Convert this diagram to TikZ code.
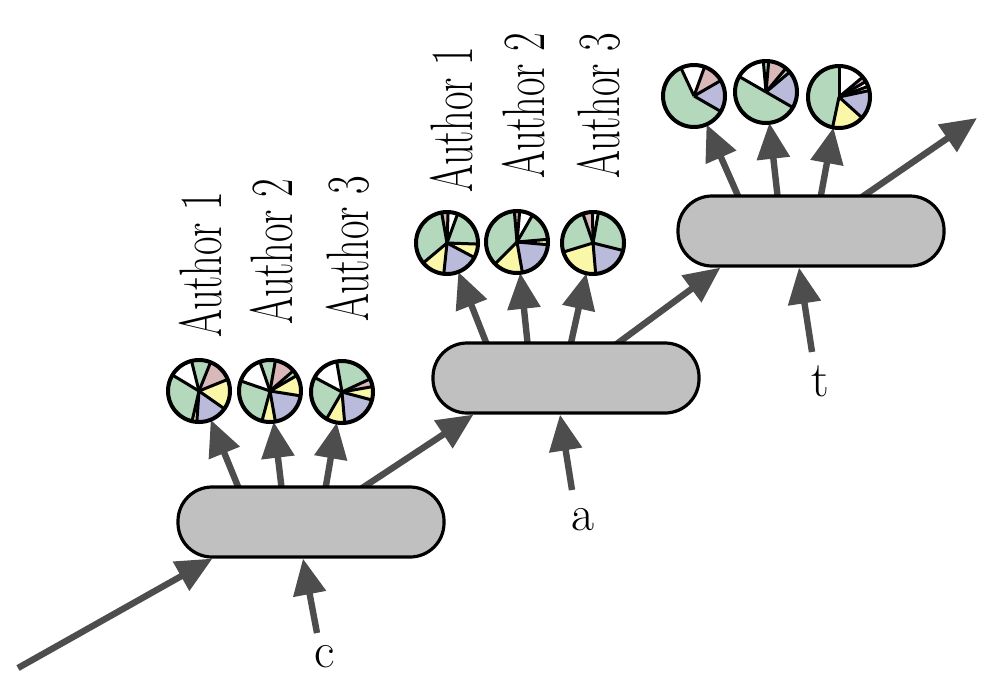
\documentclass[tikz,border=0pt]{standalone}
\usepackage{graphicx}
\usetikzlibrary{arrows.meta,backgrounds}
\definecolor{arrgray}{RGB}{77,77,77}
\definecolor{boxgray}{RGB}{192,192,192}
\definecolor{pG}{RGB}{180,216,187}
\definecolor{pP}{RGB}{216,184,184}
\definecolor{pY}{RGB}{250,247,168}
\definecolor{pL}{RGB}{186,186,218}
\definecolor{pW}{RGB}{255,255,255}
\tikzset{
 blockbox/.style={draw=black, line width=1.6pt, fill=boxgray, rounded corners=17pt,
   minimum width=133pt, minimum height=35pt, inner sep=0pt},
 pienode/.style={circle, minimum size=31pt, inner sep=0pt, outer sep=0pt},
 arr/.style={draw=arrgray, line width=3.2pt, -{Triangle[length=18pt,width=16pt]}},
 pieline/.style={line width=1.5pt, black},
 pieedge/.style={line width=2pt, black},
 authorlbl/.style={rotate=90, inner sep=0pt},
 inlbl/.style={inner sep=0pt, font=\fontsize{25}{25}\selectfont},
}
\newcommand{\drawpieslices}[2]{%
  \foreach \angA/\angB/\colr in {#2} {
    \fill[\colr] (#1.center) -- +(\angA:31) arc[start angle=\angA, end angle=\angB, radius=31] -- cycle;
  }
  \foreach \angA/\angB/\colr in {#2} {
    \draw[pieline] (#1.center) -- +(\angA:31);
  }
  \draw[pieedge] (#1.center) circle[radius=31];
}
\newcommand{\authortext}[1]{\scalebox{0.84}[1.25]{\fontsize{24}{24}\selectfont #1}}
\begin{document}
\begin{tikzpicture}[x=0.5pt,y=-0.5pt]
\useasboundingbox (0,0) rectangle (988,686);
% boxes
\node[blockbox] (b1) at (311,522) {};
\node[blockbox] (b2) at (566,378) {};
\node[blockbox] (b3) at (811,231) {};
% pies
\node[pienode] (p11) at (199,391) {};
\node[pienode] (p12) at (270,391) {};
\node[pienode] (p13) at (342,392) {};
\node[pienode] (p21) at (447,243) {};
\node[pienode] (p22) at (517,242) {};
\node[pienode] (p23) at (593,243) {};
\node[pienode] (p31) at (694,96) {};
\node[pienode] (p32) at (766,92) {};
\node[pienode] (p33) at (839,97) {};
% labels
\node[authorlbl] (l11) at (201,265) {\authortext{Author 1}};
\node[authorlbl] (l12) at (272,252) {\authortext{Author 2}};
\node[authorlbl] (l13) at (348,249) {\authortext{Author 3}};
\node[authorlbl] (l21) at (452,120) {\authortext{Author 1}};
\node[authorlbl] (l22) at (524,106) {\authortext{Author 2}};
\node[authorlbl] (l23) at (599,106) {\authortext{Author 3}};
\node[inlbl] (lc) at (325,657) {c};
\node[inlbl] (la) at (583,520) {a};
\node[inlbl] (lt) at (820,381) {t};
% free ends
\coordinate (s0) at (18,668);
\coordinate (e0) at (977,118);
\coordinate (ct) at (317,633);
\coordinate (at) at (572,490);
\coordinate (tt) at (812,352);
\begin{scope}[on background layer]
\draw[arr] (s0) -- ([xshift=18pt]b1.south west);
\draw[arr] ([xshift=23pt,yshift=-3pt]b1.north) -- ([xshift=21pt]b2.south west);
\draw[arr] ([xshift=23pt,yshift=-3pt]b2.north) -- ([xshift=22pt]b3.south west);
\draw[arr] ([xshift=23pt,yshift=-3pt]b3.north) -- (e0);
\draw[arr] (ct) -- ([xshift=-4pt]b1.south);
\draw[arr] (at) -- ([xshift=-3pt]b2.south);
\draw[arr] (tt) -- ([xshift=-6pt]b3.south);
\draw[arr] ([xshift=-35.5pt,yshift=-3pt]b1.north) -- (p11);
\draw[arr] ([xshift=-14.5pt,yshift=-3pt]b1.north) -- (p12);
\draw[arr] ([xshift=7pt,yshift=-3pt]b1.north) -- (p13);
\draw[arr] ([xshift=-39pt,yshift=-3pt]b2.north) -- (p21);
\draw[arr] ([xshift=-19pt,yshift=-3pt]b2.north) -- (p22);
\draw[arr] ([xshift=2pt,yshift=-3pt]b2.north) -- (p23);
\draw[arr] ([xshift=-35.5pt,yshift=-3pt]b3.north) -- (p31);
\draw[arr] ([xshift=-16.5pt,yshift=-3pt]b3.north) -- (p32);
\draw[arr] ([xshift=4.5pt,yshift=-3pt]b3.north) -- (p33);
\end{scope}
% pie contents
\drawpieslices{p11}{211/256/pW, 256/292/pG, 292/338/pP, 338/395/pY, 395/454/pL, 454/463/pY, 463/571/pG}
\drawpieslices{p12}{199/251/pW, 251/280/pG, 280/319/pP, 319/330/pG, 330/369/pY, 369/440/pL, 440/465/pY, 465/559/pG}
\drawpieslices{p13}{208/260/pW, 260/335/pG, 335/350/pP, 350/375/pY, 375/445/pL, 445/480/pY, 480/568/pG}
\drawpieslices{p21}{260/272/pP, 272/290/pW, 290/362/pG, 362/388/pY, 388/456/pL, 456/500/pY, 500/620/pG}
\drawpieslices{p22}{265/275/pP, 275/300/pW, 300/355/pG, 355/365/pY, 365/440/pL, 440/495/pY, 495/625/pG}
\drawpieslices{p23}{251/269/pP, 269/280/pW, 280/374/pG, 374/445/pL, 445/523/pY, 523/611/pG}
\drawpieslices{p31}{245/290/pW, 290/330/pP, 330/390/pL, 390/605/pG}
\drawpieslices{p32}{210/265/pW, 265/275/pG, 275/310/pP, 310/320/pG, 320/390/pL, 390/570/pG}
\drawpieslices{p33}{270/320/pW, 320/330/pP, 330/340/pW, 340/348/pY, 348/402/pL, 402/462/pY, 462/630/pG}
\end{tikzpicture}
\end{document}
